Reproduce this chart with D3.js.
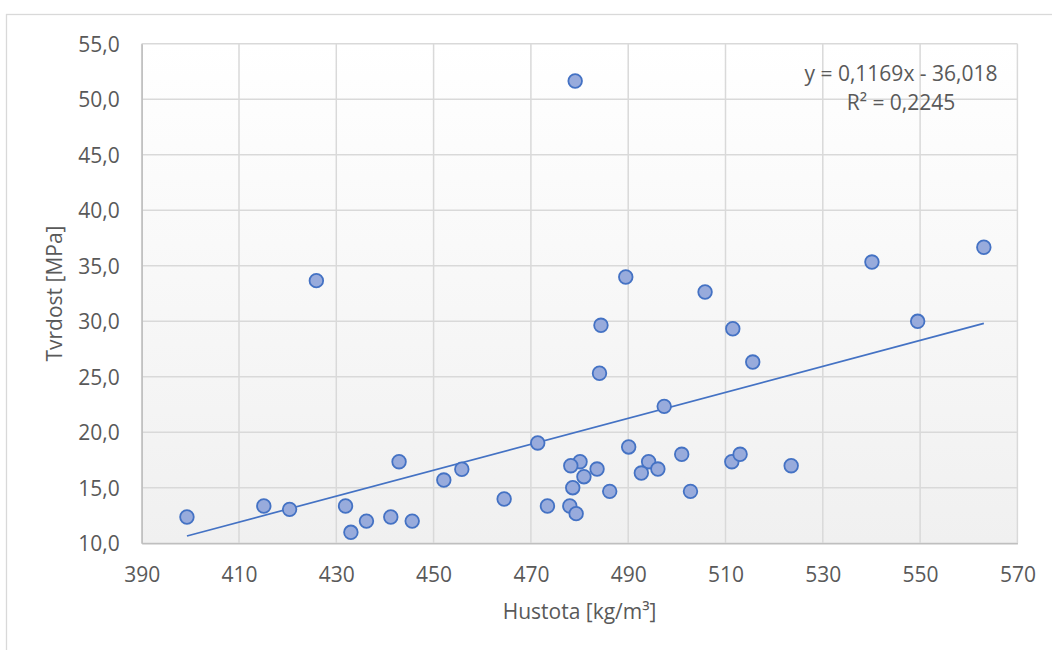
<!DOCTYPE html>
<html>
<head>
<meta charset="utf-8">
<script src="https://cdn.jsdelivr.net/npm/d3@7"></script>
<style>
  html, body { margin: 0; padding: 0; background: #fff; }
  svg { display: block; }
  text { font-family: "Open Sans", "Noto Sans", sans-serif; fill: #595959; }
</style>
</head>
<body>
<svg id="chart" width="1052" height="650"></svg>
<script>
// Density (kg/m³) of each sample
const density = [
  399.3, 415.1, 420.4, 425.9, 431.9, 433.0, 436.2, 442.9, 441.2, 445.6,
  452.1, 455.8, 464.5, 471.4, 473.4, 484.4, 484.1, 489.5, 480.1, 478.2,
  480.9, 483.6, 478.6, 486.2, 478.0, 479.3, 490.1, 494.2, 492.7, 496.1,
  497.4, 501.0, 502.8, 505.8, 511.5, 515.6, 511.3, 513.0, 523.5, 540.1,
  549.5, 563.1, 479.1
];
// Hardness (MPa) of each sample
const hardness = [
  12.37, 13.36, 13.06, 33.66, 13.36, 10.99, 12.0, 17.35, 12.37, 12.0,
  15.7, 16.67, 13.99, 19.04, 13.36, 29.64, 25.32, 33.99, 17.35, 16.99,
  16.0, 16.69, 15.01, 14.68, 13.36, 12.67, 18.68, 17.35, 16.33, 16.69,
  22.34, 18.02, 14.68, 32.64, 29.33, 26.33, 17.35, 18.02, 16.99, 35.34,
  30.0, 36.67, 51.65
];
// Axis ticks
const xTicks = [390, 410, 430, 450, 470, 490, 510, 530, 550, 570];
const yTicks = [10, 15, 20, 25, 30, 35, 40, 45, 50, 55];
// Linear trend
const slope = 0.1169;
const intercept = -36.018;
const trendLabels = ["y = 0,1169x - 36,018", "R² = 0,2245"];
const xTitle = "Hustota [kg/m³]";
const yTitle = "Tvrdost [MPa]";

const svg = d3.select("#chart");
const L = 141.7, R = 1017.4, T = 43.8, B = 543.3;

// chart frame
svg.append("rect").attr("x", 6.5).attr("y", 14.5).attr("width", 1100).attr("height", 700)
  .attr("fill", "#fff").attr("stroke", "#d9d9d9").attr("stroke-width", 1.3);

const x = d3.scaleLinear().domain([390, 570]).range([L, R]);
const y = d3.scaleLinear().domain([10, 55]).range([B, T]);

// plot-area gradient
const defs = svg.append("defs");
const grad = defs.append("linearGradient").attr("id", "bg").attr("x1", 0).attr("y1", 0).attr("x2", 0).attr("y2", 1);
grad.append("stop").attr("offset", "0%").attr("stop-color", "#ffffff");
grad.append("stop").attr("offset", "100%").attr("stop-color", "#f0f0f0");
svg.append("rect").attr("x", L).attr("y", T).attr("width", R - L).attr("height", B - T).attr("fill", "url(#bg)");

// gridlines
const grid = svg.append("g");
grid.selectAll("line.v").data(xTicks).join("line")
  .attr("x1", d => x(d)).attr("x2", d => x(d)).attr("y1", T).attr("y2", B)
  .attr("stroke", "#d9d9d9").attr("stroke-width", 1.5);
grid.selectAll("line.h").data(yTicks).join("line")
  .attr("x1", L).attr("x2", R).attr("y1", d => y(d)).attr("y2", d => y(d))
  .attr("stroke", "#d9d9d9").attr("stroke-width", 1.5);

// axes
const xAxis = d3.axisBottom(x).tickValues(xTicks).tickSize(0).tickPadding(0).tickFormat(d3.format("d"));
const gx = svg.append("g").attr("transform", `translate(0,${B})`).call(xAxis);
gx.select(".domain").attr("stroke", "#bfbfbf").attr("stroke-width", 1.5);
gx.selectAll("text").attr("dy", null).attr("y", 39).attr("font-size", 21).attr("fill", "#595959")
  .style("font-family", "'Open Sans', sans-serif");

const fmtY = d => d3.format(".1f")(d).replace(".", ",");
const yAxis = d3.axisLeft(y).tickValues(yTicks).tickSize(0).tickPadding(0).tickFormat(fmtY);
const gy = svg.append("g").attr("transform", `translate(${L},0)`).call(yAxis);
gy.select(".domain").attr("stroke", "#bfbfbf").attr("stroke-width", 1.5);
gy.selectAll("text").attr("x", -22).attr("dy", "0.35em").attr("font-size", 21).attr("fill", "#595959")
  .style("font-family", "'Open Sans', sans-serif");

// trendline
const xExt = d3.extent(density);
svg.append("line")
  .attr("x1", x(xExt[0])).attr("y1", y(slope * xExt[0] + intercept))
  .attr("x2", x(xExt[1])).attr("y2", y(slope * xExt[1] + intercept))
  .attr("stroke", "#4472c4").attr("stroke-width", 1.7);

// points
svg.append("g").selectAll("circle").data(density.map((d, i) => [d, hardness[i]])).join("circle")
  .attr("cx", d => x(d[0])).attr("cy", d => y(d[1])).attr("r", 6.8)
  .attr("fill", "#98abdc").attr("stroke", "#4472c4").attr("stroke-width", 1.8);

// trend equation
const eq = svg.append("text").attr("text-anchor", "middle").attr("font-size", 21);
eq.selectAll("tspan").data(trendLabels).join("tspan")
  .attr("x", 901).attr("y", (d, i) => 81 + i * 29).text(d => d);

// axis titles
svg.append("text").attr("x", (L + R) / 2).attr("y", 619).attr("text-anchor", "middle")
  .attr("font-size", 21).text(xTitle);
svg.append("text").attr("transform", `translate(62,${(T + B) / 2}) rotate(-90)`)
  .attr("text-anchor", "middle").attr("font-size", 21).text(yTitle);
</script>
</body>
</html>
